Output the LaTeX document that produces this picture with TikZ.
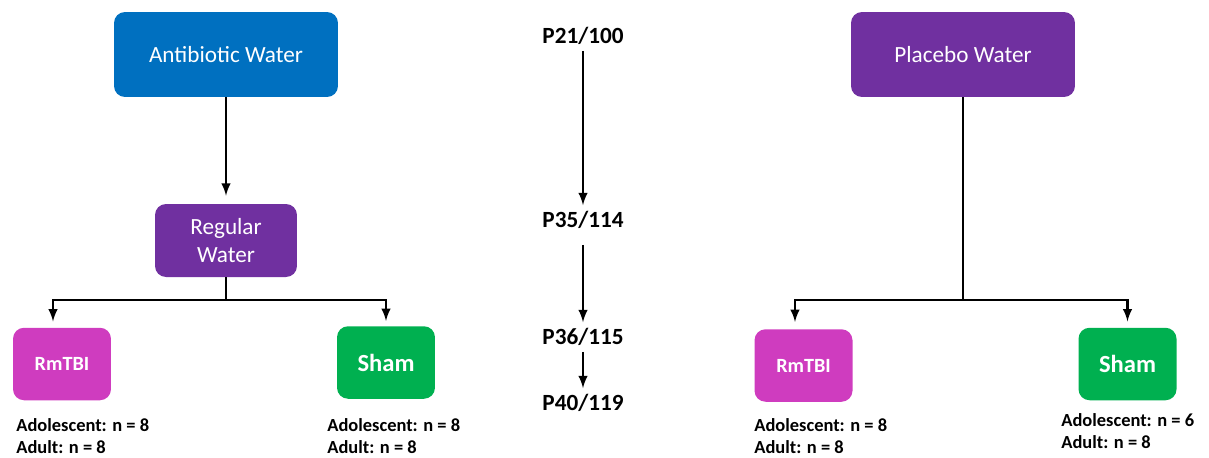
\documentclass[tikz,border=0pt]{standalone}
\usepackage{fontspec}
\setmainfont{Carlito}
\usetikzlibrary{arrows}

\definecolor{abblue}{HTML}{0070C0}
\definecolor{wpurple}{HTML}{7030A0}
\definecolor{tbipink}{HTML}{CF3CBF}
\definecolor{shgreen}{HTML}{00B050}

\begin{document}
\begin{tikzpicture}[x=0.02cm, y=-0.02cm,
  box/.style={rounded corners=0.22cm, text=white, align=center, font=\fontsize{13.2}{16}\selectfont},
  grp/.style={box, minimum width=1.96cm, minimum height=1.45cm, font=\bfseries\fontsize{14}{16}\selectfont},
  age/.style={anchor=west, inner sep=0pt, font=\bfseries\fontsize{10.5}{12}\selectfont},
  day/.style={font=\bfseries\fontsize{13.2}{16}\selectfont},
  link/.style={line width=1.4pt, >=latex}]
\useasboundingbox (0,0) rectangle (1209,457);
% treatments
\node[box, fill=abblue, minimum width=4.48cm, minimum height=1.7cm] (aw) at (226,54.5) {Antibiotic Water};
\node[box, fill=wpurple, minimum width=2.84cm, minimum height=1.46cm] (rw) at (226,240.5) {Regular\\Water};
\node[box, fill=wpurple, minimum width=4.48cm, minimum height=1.7cm] (pw) at (963,54.5) {Placebo Water};
% groups
\node[grp, fill=tbipink, font=\bfseries\fontsize{11.5}{13}\selectfont] (rm1) at (62,364) {RmTBI};
\node[grp, fill=shgreen] (sh1) at (386,362.5) {Sham};
\node[grp, fill=tbipink, font=\bfseries\fontsize{11.5}{13}\selectfont] (rm2) at (803.5,365.5) {RmTBI};
\node[grp, fill=shgreen] (sh2) at (1127.5,364) {Sham};
% sizes
\node[age] (a1) at (16,425) {Adolescent: n = 8};
\node[age] (b1) at (16,447) {Adult: n = 8};
\node[age] (a2) at (327,425) {Adolescent: n = 8};
\node[age] (b2) at (327,447) {Adult: n = 8};
\node[age] (a3) at (754,425) {Adolescent: n = 8};
\node[age] (b3) at (754,447) {Adult: n = 8};
\node[age] (a4) at (1061,420) {Adolescent: n = 6};
\node[age] (b4) at (1061,442) {Adult: n = 8};
% timeline
\node[day] (p21) at (583,36) {P21/100};
\node[day] (p35) at (583,220) {P35/114};
\node[day] (p36) at (583,337) {P36/115};
\node[day] (p40) at (583,403) {P40/119};
\draw [->, link] (p21) -- (p35);
\draw [->, link, shorten <=0.2cm] (p35) -- (p36);
\draw [->, link] (p36) -- (p40);
% branches
\coordinate (s1) at (226,300);
\coordinate (s2) at (963,300);
\draw [->, link, shorten >=0.16cm] (aw) -- (rw);
\draw [link] (rw) -- (s1);
\draw [->, link, shorten >=0.12cm] (s1) -| ([xshift=-0.18cm]rm1.north);
\draw [->, link, shorten >=0.1cm] (s1) -| (sh1.north);
\draw [link] (pw) -- (s2);
\draw [->, link, shorten >=0.14cm] (s2) -| ([xshift=-0.17cm]rm2.north);
\draw [->, link, shorten >=0.12cm] (s2) -| (sh2.north);
\end{tikzpicture}
\end{document}
